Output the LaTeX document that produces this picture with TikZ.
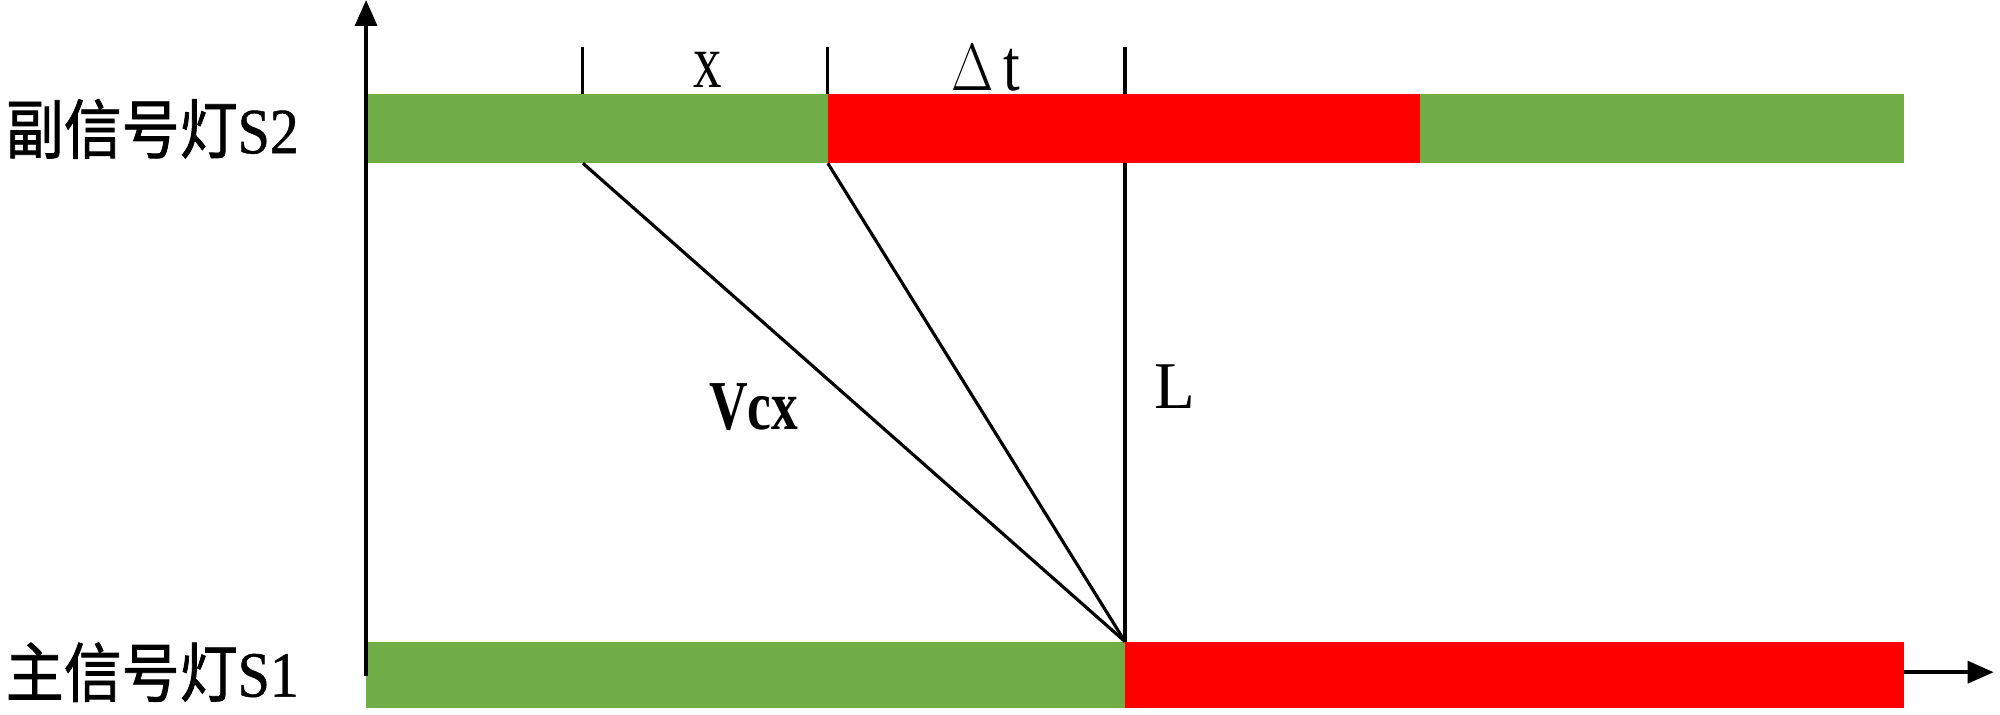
\documentclass[tikz,border=0pt]{standalone}
\usepackage{fontspec}
\usepackage{graphicx}
\setmainfont{Liberation Serif}
\newfontfamily\cjk[FakeBold=1.3]{Noto Sans CJK SC}
\newfontfamily\lampfont[FakeBold=0.8]{Liberation Serif}
\usepackage{xcolor}
\usetikzlibrary{arrows.meta,positioning}
\definecolor{lampgreen}{HTML}{70AD47}
\definecolor{lampred}{HTML}{FF0000}

\begin{document}
\begin{tikzpicture}[
  x=0.12755mm, y=-0.12755mm,
  font=\fontsize{19pt}{22pt}\selectfont,
  axis/.style={line width=1pt, -{Triangle[length=2.6mm, width=2.2mm]}},
  tick/.style={line width=0.9pt},
  ray/.style={line width=0.9pt},
  greenbar/.style={fill=lampgreen},
  redbar/.style={fill=lampred},
  lamp/.style={anchor=west, inner sep=0pt, font=\fontsize{17pt}{20pt}\selectfont}
]
\useasboundingbox (0,0) rectangle (1568,560);

% bars of the two lamps
\fill[greenbar] (287,74) rectangle (649,128);
\fill[redbar] (649,74) rectangle (1113,128);
\fill[greenbar] (1113,74) rectangle (1493,128);
\fill[greenbar] (287,503) rectangle (882,555);
\fill[redbar] (882,503) rectangle (1493,555);

\coordinate (orig) at (287,530);
\coordinate (ytop) at (287,0);
\coordinate (xstart) at (1493,527);
\coordinate (xend) at (1563,527);
\coordinate (tickA) at (457,37);
\coordinate (tickB) at (649,37);
\coordinate (tickC) at (882,37);
\coordinate (topA) at (457,74);
\coordinate (topB) at (649,74);
\coordinate (topC) at (882,74);
\coordinate (lowA) at (457,128);
\coordinate (lowB) at (649,128);
\coordinate (lowC) at (882,128);
\coordinate (meet) at (882,503);

\draw[axis] (orig) -- (ytop);
\draw[axis] (xstart) -- (xend);

\draw[tick] (tickA) -- (topA);
\draw[tick] (tickB) -- (topB);
\draw[tick] (tickC) -- (topC);

\draw[ray] (lowA) -- (meet);
\draw[ray] (lowB) -- (meet);
\draw[ray] (lowC) -- (meet);

\node (xlab) at (555,55) {\scalebox{0.85}[1.15]{x}};
\node (dtlab) at (773,53) {\scalebox{0.9}[1.1]{$\Delta$\,t}};
\node (vlab) at (591,319) {\scalebox{0.8}[1.05]{\textbf{Vcx}}};
\node (llab) at (921,303) {L};

\node[lamp] (sub) at (4,101) {\scalebox{0.97}[1.08]{{\cjk 副信号灯}{\lampfont S2}}};
\node[lamp] (main) at (4,527) {\scalebox{0.97}[1.08]{{\cjk 主信号灯}{\lampfont S1}}};
\end{tikzpicture}
\end{document}
